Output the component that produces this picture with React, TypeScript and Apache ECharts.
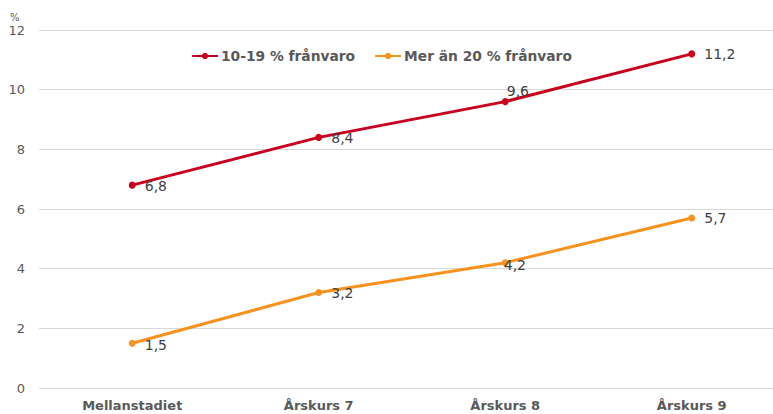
import React, { useEffect, useRef } from "react";
import * as echarts from "echarts";

const categories = ["Mellanstadiet", "Årskurs 7", "Årskurs 8", "Årskurs 9"];
const seriesNames = ["10-19 % frånvaro", "Mer än 20 % frånvaro"];
const redValues = [6.8, 8.4, 9.6, 11.2];
const orangeValues = [1.5, 3.2, 4.2, 5.7];
const yTicks = [0, 2, 4, 6, 8, 10, 12];

const RED = "#c8001e";
const ORANGE = "#f7921e";
const FONT = "DejaVu Sans";

const fmt = (v: number) => v.toFixed(1).replace(".", ",");

export default function App() {
  const ref = useRef<HTMLDivElement>(null);
  useEffect(() => {
    if (!ref.current) return;
    const chart = echarts.init(ref.current, undefined, { renderer: "svg" });
    const redOffsets: [number, number][] = [[4, 1], [4, 1], [-7, -11], [4, 0]];
    const orangeOffsets: [number, number][] = [[4, 2], [4, 0], [-10, 2], [4, 0]];
    const mk = (vals: number[], offs: [number, number][]) =>
      vals.map((v, i) => ({
        value: v,
        label: { offset: offs[i] },
      }));
    const labelStyle = {
      show: true,
      position: "right",
      fontFamily: FONT,
      fontSize: 14,
      color: "#404040",
      formatter: (p: any) => fmt(p.value),
    };
    chart.setOption({
      animation: false,
      textStyle: { fontFamily: FONT },
      grid: { left: 39, width: 746, top: 30, bottom: 26, outerBoundsMode: "none" },
      legend: {
        top: 44,
        left: 186,
        itemWidth: 26,
        itemHeight: 8,
        itemGap: 19,
        textStyle: { fontFamily: FONT, fontSize: 13.8, fontWeight: "bold", color: "#595959", padding: [0, 0, 0, -2] },
        data: seriesNames,
      },
      graphic: [
        { type: "text", left: 10, top: 12, style: { text: "%", fontSize: 10, fill: "#595959", fontFamily: FONT } },
      ],
      xAxis: {
        type: "category",
        data: categories,
        boundaryGap: true,
        axisLine: { show: true, lineStyle: { color: "#d9d9d9", width: 1 } },
        axisTick: { show: false },
        axisLabel: { fontFamily: FONT, fontSize: 13, fontWeight: "bold", color: "#595959", margin: 11 },
      },
      yAxis: {
        type: "value",
        min: yTicks[0],
        max: yTicks[yTicks.length - 1],
        interval: 2,
        axisLine: { show: false },
        axisTick: { show: false },
        splitLine: { lineStyle: { color: "#d9d9d9", width: 1 } },
        axisLabel: { fontFamily: FONT, fontSize: 13, color: "#595959", margin: 14 },
      },
      series: [
        {
          name: seriesNames[0],
          type: "line",
          data: mk(redValues, redOffsets),
          color: RED,
          lineStyle: { width: 3, color: RED },
          symbol: "circle",
          symbolSize: 7,
          itemStyle: { color: RED },
          label: labelStyle,
        },
        {
          name: seriesNames[1],
          type: "line",
          data: mk(orangeValues, orangeOffsets),
          color: ORANGE,
          lineStyle: { width: 3, color: ORANGE },
          symbol: "circle",
          symbolSize: 7,
          itemStyle: { color: ORANGE },
          label: labelStyle,
        },
      ],
    });
    return () => chart.dispose();
  }, []);
  return <div ref={ref} style={{ width: 773, height: 414, position: "absolute", left: 0, top: 0 }} />;
}
